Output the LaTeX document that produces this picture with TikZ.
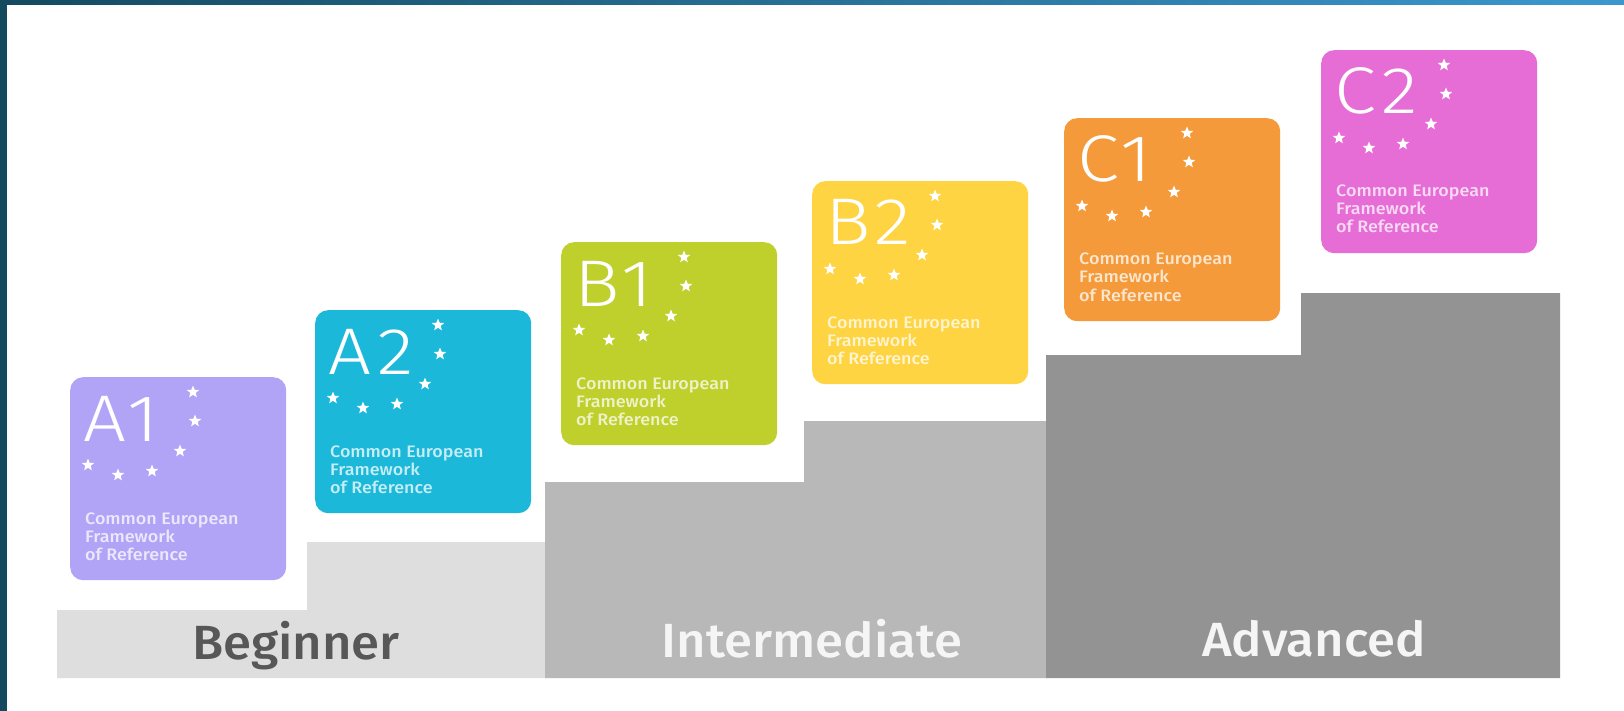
\documentclass[tikz,border=0pt]{standalone}
\usepackage{fontspec}
\setmainfont{Fira Sans}
\newfontfamily\thinfont{Fira Sans Light}[FakeStretch=1.15, LetterSpace=8]
\newfontfamily\medfont{Fira Sans Medium}[FakeStretch=1.06]
\newfontfamily\subfont{Fira Sans Medium}[FakeStretch=1.08]
\usetikzlibrary{shapes.geometric}
\definecolor{topL}{HTML}{144A60}
\definecolor{topR}{HTML}{3B98CF}
\definecolor{sideC}{HTML}{134A5E}
\definecolor{begC}{HTML}{DFDEDF}
\definecolor{intC}{HTML}{B8B8B8}
\definecolor{advC}{HTML}{939393}
\definecolor{aoneC}{HTML}{B1A4F7}
\definecolor{atwoC}{HTML}{1BB8DA}
\definecolor{boneC}{HTML}{BFCF2C}
\definecolor{btwoC}{HTML}{FED442}
\definecolor{coneC}{HTML}{F49A3A}
\definecolor{ctwoC}{HTML}{E66DD6}
\definecolor{begText}{HTML}{575757}
\tikzset{
  levelbox/.style={rectangle, rounded corners=13pt, minimum width=216pt, minimum height=203pt, inner sep=0pt, anchor=north west, draw=none},
  biglabel/.style={anchor=base west, inner sep=0pt, text=white, font=\thinfont\fontsize{66}{66}\selectfont},
  subline/.style={anchor=base west, inner sep=0pt, text=white, text opacity=0.75, font=\subfont\fontsize{16.6}{18}\selectfont},
  starmark/.style={star, star points=5, star point ratio=2.3, minimum size=13pt, inner sep=0pt, fill=white, draw=none},
  stagelabel/.style={anchor=base, inner sep=0pt, font=\medfont\fontsize{48}{48}\selectfont}
}
\newcommand\cefrbox[5]{%
  \begin{scope}[shift={(#2,#3)}]
    \node[levelbox, fill=#4] (#1) at (0,0) {};
    \node[biglabel] (#1-lab) at (13,64) {#5};
    \node[starmark] (#1-s1) at (123,15) {};
    \node[starmark] (#1-s2) at (125,44) {};
    \node[starmark] (#1-s3) at (110,74) {};
    \node[starmark] (#1-s4) at (82,94) {};
    \node[starmark] (#1-s5) at (48,98) {};
    \node[starmark] (#1-s6) at (18,88) {};
    \node[subline] (#1-t1) at (15,147) {Common European};
    \node[subline] (#1-t2) at (15,165) {Framework};
    \node[subline] (#1-t3) at (15,183) {of Reference};
  \end{scope}}
\begin{document}
\begin{tikzpicture}[x=1pt,y=-1pt]
  \useasboundingbox (0,0) rectangle (1624,711);
  \fill[white] (0,0) rectangle (1624,711);
  \shade[left color=topL, right color=topR] (0,0) rectangle (1624,5);
  \fill[sideC] (0,0) rectangle (7,711);
  % stairs
  \fill[begC] (57,678) -- (57,610) -- (307,610) -- (307,542) -- (545,542) -- (545,678) -- cycle;
  \fill[intC] (545,678) -- (545,482) -- (804,482) -- (804,421) -- (1046,421) -- (1046,678) -- cycle;
  \fill[advC] (1046,678) -- (1046,355) -- (1301,355) -- (1301,293) -- (1560,293) -- (1560,678) -- cycle;
  \node[stagelabel, text=begText] (beg) at (296,659) {Beginner};
  \node[stagelabel, text=white!96!black] (int) at (812,657) {Intermediate};
  \node[stagelabel, text=white!96!black] (adv) at (1314,656) {Advanced};
  % level boxes
  \cefrbox{aone}{70}{377}{aoneC}{A1}
  \cefrbox{atwo}{315}{310}{atwoC}{A2}
  \cefrbox{bone}{561}{242}{boneC}{B1}
  \cefrbox{btwo}{812}{181}{btwoC}{B2}
  \cefrbox{cone}{1064}{118}{coneC}{C1}
  \cefrbox{ctwo}{1321}{50}{ctwoC}{C2}
\end{tikzpicture}
\end{document}
